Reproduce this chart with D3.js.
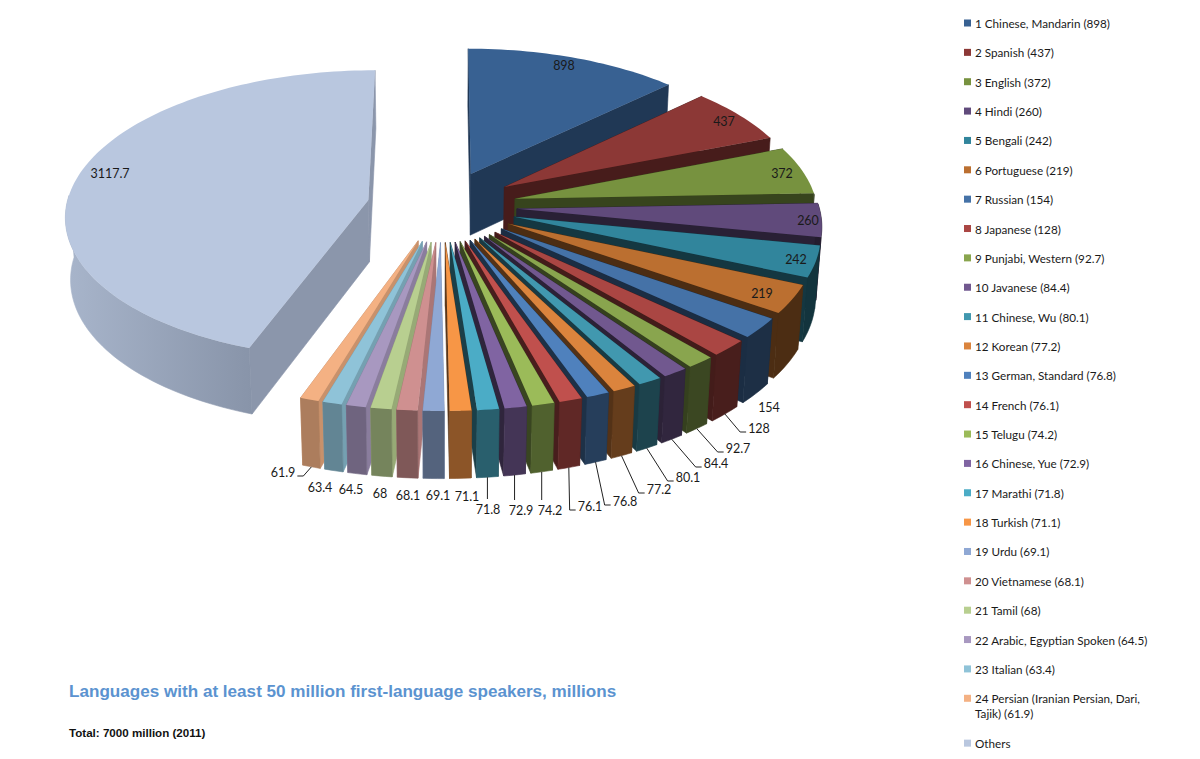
<!DOCTYPE html>
<html>
<head>
<meta charset="utf-8">
<script src="https://cdnjs.cloudflare.com/ajax/libs/d3/7.8.5/d3.min.js"></script>
<style>
  html, body { margin: 0; padding: 0; background: #fff; }
  text { font-family: Lato, "Open Sans", sans-serif; fill: #1a1a1a; }
</style>
</head>
<body>
<div id="chart"></div>
<script>
// values, millions of speakers
const languages = ["1 Chinese, Mandarin", "2 Spanish", "3 English", "4 Hindi", "5 Bengali", "6 Portuguese",
    "7 Russian", "8 Japanese", "9 Punjabi, Western", "10 Javanese", "11 Chinese, Wu", "12 Korean",
    "13 German, Standard", "14 French", "15 Telugu", "16 Chinese, Yue", "17 Marathi", "18 Turkish",
    "19 Urdu", "20 Vietnamese", "21 Tamil", "22 Arabic, Egyptian Spoken", "23 Italian",
    "24 Persian (Iranian Persian, Dari, Tajik)", "Others"];
const speakers = [898, 437, 372, 260, 242, 219, 154, 128, 92.7, 84.4, 80.1, 77.2, 76.8, 76.1,
    74.2, 72.9, 71.8, 71.1, 69.1, 68.1, 68, 64.5, 63.4, 61.9, 3117.7];

const sliceColors = ["#386192", "#8c3836", "#77923f", "#604a7b", "#31859c", "#bb6f30", "#4572a7",
    "#aa4643", "#89a54e", "#71588f", "#4198af", "#db843d", "#4f81bd", "#c0504d", "#9bbb59",
    "#8064a2", "#4bacc6", "#f79646", "#8fa8d4", "#cf9090", "#b8cf90", "#a898c0", "#8fc3d8",
    "#f4b183", "#b9c7df"];

// hand placed data labels, same order as speakers: x, y of the text centre
const labelSpots = [[564, 65], [724, 121], [782, 173], [808, 220], [796, 259], [762, 293], [769, 407],
    [759, 428], [738, 448], [716, 463], [688, 477], [659, 489], [625, 501], [590, 506], [550, 510],
    [521, 510], [488, 509], [467, 496], [438, 495], [408, 495], [380, 493], [351, 489], [320, 487],
    [283, 472], [110, 173]];
// which labels get a leader line
const elbowLeaders = [7, 8, 9, 10, 11, 12, 13];
const dropLeaders = [14, 15, 16];
const elbowLeft = [23];

const width = 1200, height = 759;

// pie geometry, fitted to the picture
const cx = 442, cy = 206;
const radius = 302, explode = 75, thickness = 63;
const tilt = 0.476, perspective = 0.00033, depthPerspective = 0.00022;

function project(x, y, z) {
    const s = 1 / (1 + perspective * y + depthPerspective * z);
    return [cx + x * s, cy + (z - tilt * y) * s];
}

const svg = d3.select("#chart").append("svg")
    .attr("width", width).attr("height", height)
    .style("display", "block");

const gradient = svg.append("defs").append("linearGradient")
    .attr("id", "othersWall").attr("gradientUnits", "userSpaceOnUse")
    .attr("x1", 65).attr("x2", 252).attr("y1", 0).attr("y2", 0);
gradient.append("stop").attr("offset", 0).attr("stop-color", "#a8b5cb");
gradient.append("stop").attr("offset", 1).attr("stop-color", "#8894a9");

const pie = d3.pie().sort(null).value(d => d)(speakers);
const lineGen = d3.line();

// the outer wall gets darker the further round from the light on the left
const wallShade = d3.scaleLinear()
    .domain([90, 150, 180, 200, 280])
    .range([0.37, 0.44, 0.58, 0.72, 0.8])
    .clamp(true);
// same idea for the radial walls on the right hand side
const sideShade = d3.scaleLinear()
    .domain([23, 60, 100, 180])
    .range([0.58, 0.5, 0.42, 0.36])
    .clamp(true);

function shade(color, factor) {
    return d3.interpolateRgb("#000", color)(factor);
}

const slices = pie.map((d, i) => {
    const mid = (d.startAngle + d.endAngle) / 2;
    const ex = explode * Math.sin(mid), ey = explode * Math.cos(mid);
    const at = (a, r, z) => project(ex + r * Math.sin(a), ey + r * Math.cos(a), z);
    const steps = d3.range(0, 1.0001, 1 / Math.max(2, Math.ceil((d.endAngle - d.startAngle) * 40)));
    const arcAngles = steps.map(t => d.startAngle + t * (d.endAngle - d.startAngle));
    return {i, mid, ey, at, arcAngles, startAngle: d.startAngle, endAngle: d.endAngle, color: sliceColors[i]};
});

// painter's order, back to front
slices.sort((a, b) => b.ey - a.ey);

const pieG = svg.append("g");

function radialWall(s, angle) {
    return lineGen([s.at(angle, 0, 0), s.at(angle, radius, 0), s.at(angle, radius, thickness), s.at(angle, 0, thickness)]) + "Z";
}

// only the front half of the rim can be seen
const rimAngle = a => Math.max(Math.PI * 0.49, Math.min(Math.PI * 1.51, a));

slices.forEach(s => {
    const deg = s.mid * 180 / Math.PI;
    const isOthers = s.i === speakers.length - 1;
    const g = pieG.append("g");
    const sideFill = isOthers ? "#8b96ab" : (deg > 181 ? shade(s.color, 0.82) : shade(s.color, sideShade(deg)));

    // back facing radial wall goes first
    const angles = deg > 180 ? [s.endAngle, s.startAngle] : [s.startAngle, s.endAngle];
    angles.forEach(a => {
        g.append("path").attr("d", radialWall(s, a))
            .attr("fill", sideFill).attr("stroke", sideFill).attr("stroke-width", 0.6);
    });

    const rim = s.arcAngles.map(rimAngle);
    const rimTop = rim.map(a => s.at(a, radius, 0));
    const rimBottom = rim.map(a => s.at(a, radius, thickness)).reverse();
    const rimFill = isOthers ? "url(#othersWall)" : shade(s.color, wallShade(deg));
    g.append("path")
        .attr("d", lineGen(rimTop.concat(rimBottom)) + "Z")
        .attr("fill", rimFill).attr("stroke", rimFill).attr("stroke-width", 0.6);

    const topArc = s.arcAngles.map(a => s.at(a, radius, 0));
    g.append("path")
        .attr("d", lineGen([s.at(0, 0, 0)].concat(topArc)) + "Z")
        .attr("fill", s.color);
});

// data labels and their leaders
const labelG = svg.append("g");
const byIndex = d3.index(slices, s => s.i);
speakers.forEach((v, i) => {
    const [lx, ly] = labelSpots[i];
    const label = labelG.append("text")
        .attr("x", lx).attr("y", ly)
        .attr("text-anchor", "middle")
        .attr("dominant-baseline", "central")
        .attr("font-size", 12.5)
        .text(v);
    const half = label.node().getComputedTextLength() / 2;
    const s = byIndex.get(i);
    const start = s.at(s.mid, radius, thickness);
    let pts = null;
    if (elbowLeaders.includes(i)) {
        pts = [start, [lx - half - 8, ly + 4], [lx - half - 2, ly + 4]];
    } else if (dropLeaders.includes(i)) {
        pts = [start, [start[0], ly - 10]];
    } else if (elbowLeft.includes(i)) {
        pts = [start, [lx + half + 8, ly + 4], [lx + half + 2, ly + 4]];
    }
    if (pts) {
        labelG.append("path").attr("d", lineGen(pts))
            .attr("fill", "none").attr("stroke", "#222").attr("stroke-width", 1);
    }
});

// legend
const legendX = 964, legendRow = 29.36, legendTop = 23;
const legendRows = languages.map((name, i) => ({name, i}));
const legend = svg.append("g");
legendRows.forEach(d => {
    const extra = d.i === languages.length - 1 ? 15.5 : 0;
    const y = legendTop + d.i * legendRow + extra;
    legend.append("rect")
        .attr("x", legendX).attr("y", y - 3.5)
        .attr("width", 7).attr("height", 7)
        .attr("fill", sliceColors[d.i]);
    const isOthers = d.i === languages.length - 1;
    const full = isOthers ? d.name : d.name + " (" + speakers[d.i] + ")";
    const lines = d.i === 23 ? ["24 Persian (Iranian Persian, Dari,", "Tajik) (61.9)"] : [full];
    lines.forEach((line, k) => {
        legend.append("text")
            .attr("x", legendX + 11).attr("y", y + k * 15)
            .attr("dominant-baseline", "central")
            .attr("font-size", 11.7)
            .text(line);
    });
});

// title block
svg.append("text")
    .attr("x", 69).attr("y", 697)
    .style("font-family", "'Liberation Sans', Arial, sans-serif")
    .style("font-weight", "bold").style("font-size", "17.1px")
    .style("fill", "#5b93d0")
    .text("Languages with at least 50 million first-language speakers, millions");
svg.append("text")
    .attr("x", 69).attr("y", 737)
    .style("font-family", "'Liberation Sans', Arial, sans-serif")
    .style("font-weight", "bold").style("font-size", "11.6px")
    .style("fill", "#111")
    .text("Total: 7000 million (2011)");
</script>
</body>
</html>
